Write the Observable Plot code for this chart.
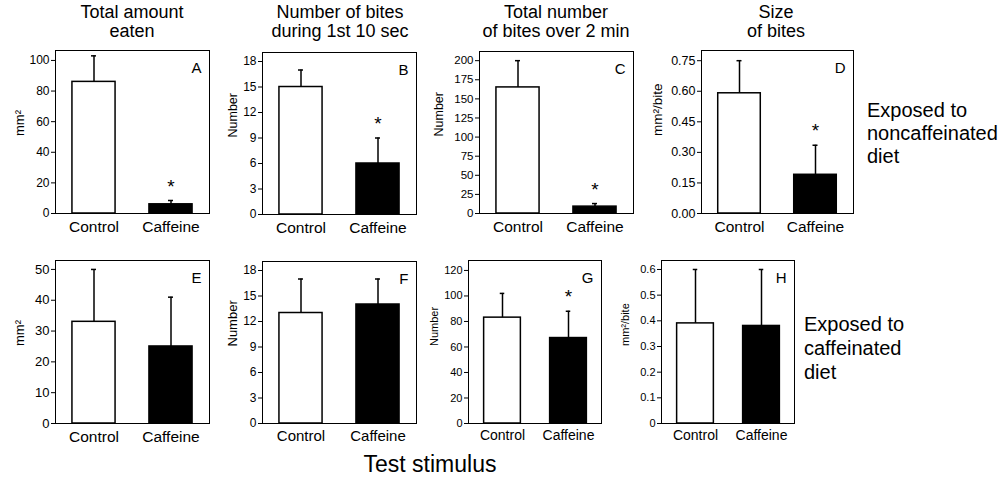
<!DOCTYPE html>
<html>
<head>
<meta charset="utf-8">
<script src="https://cdn.jsdelivr.net/npm/d3@7"></script>
<script src="https://cdn.jsdelivr.net/npm/@observablehq/plot@0.6"></script>
<style>
  html, body { margin: 0; padding: 0; background: #fff; }
  #fig { position: relative; width: 1005px; height: 481px; font-family: "Liberation Sans", Arial, Helvetica, sans-serif; color: #000; overflow: hidden; }
  .abs { position: absolute; }
  .coltitle { position: absolute; text-align: center; font-size: 18px; line-height: 19px; white-space: nowrap; transform: translateX(-50%); }
  .rowlabel { position: absolute; font-size: 20px; line-height: 22px; white-space: nowrap; }
  svg { overflow: visible; }
</style>
</head>
<body>
<div id="fig"></div>
<script>
// ---------- data ----------
const categories = ["Control", "Caffeine"];
const panelLetters = ["A", "B", "C", "D", "E", "F", "G", "H"];
const columnTitles = ["Total amount\neaten", "Number of bites\nduring 1st 10 sec", "Total number\nof bites over 2 min", "Size\nof bites"];
const rowLabels = ["Exposed to\nnoncaffeinated\ndiet", "Exposed to\ncaffeinated\ndiet"];
const xTitle = "Test stimulus";
const yLabels = ["mm²", "Number", "Number", "mm²/bite", "mm²", "Number", "Number", "mm²/bite"];

const meanA = [86, 6],      errA = [103, 8.5],   starA = [false, true];
const meanB = [15, 6],      errB = [17, 9],      starB = [false, true];
const meanC = [165, 9],     errC = [200, 13],    starC = [false, true];
const meanD = [0.59, 0.19], errD = [0.75, 0.335], starD = [false, true];
const meanE = [33, 25],     errE = [50, 41],     starE = [false, false];
const meanF = [13, 14],     errF = [17, 17],     starF = [false, false];
const meanG = [83, 67],     errG = [102, 88],    starG = [false, true];
const meanH = [0.39, 0.38], errH = [0.6, 0.6],   starH = [false, false];

const ticksA = [0, 20, 40, 60, 80, 100];
const ticksB = [0, 3, 6, 9, 12, 15, 18];
const ticksC = [0, 25, 50, 75, 100, 125, 150, 175, 200];
const ticksD = [0, 0.15, 0.30, 0.45, 0.60, 0.75];
const ticksE = [0, 10, 20, 30, 40, 50];
const ticksF = [0, 3, 6, 9, 12, 15, 18];
const ticksG = [0, 20, 40, 60, 80, 100, 120];
const ticksH = [0, 0.1, 0.2, 0.3, 0.4, 0.5, 0.6];

const means = [meanA, meanB, meanC, meanD, meanE, meanF, meanG, meanH];
const errs = [errA, errB, errC, errD, errE, errF, errG, errH];
const stars = [starA, starB, starC, starD, starE, starF, starG, starH];
const ticks = [ticksA, ticksB, ticksC, ticksD, ticksE, ticksF, ticksG, ticksH];
const tickFormats = [d3.format("d"), d3.format("d"), d3.format("d"), d3.format(".2f"), d3.format("d"), d3.format("d"), d3.format("d"), d => d === 0 ? "0" : d3.format(".1f")(d)];

// ---------- layout (pixels / scale extents) ----------
const layout = [
  {left: 55,  top: 50,  w: 154, h: 163, yMax: 106.5, ylabDx: -36, ylabSize: 13, tickFont: 12,   xFont: 15.5},
  {left: 262, top: 52,  w: 154, h: 162, yMax: 19.06, ylabDx: -30, ylabSize: 12.5, tickFont: 12, xFont: 15.5},
  {left: 479, top: 51,  w: 154, h: 162, yMax: 212,   ylabDx: -41, ylabSize: 12.5, tickFont: 11.5, xFont: 15.5},
  {left: 701, top: 50,  w: 152, h: 163, yMax: 0.80,  ylabDx: -44, ylabSize: 13.5, tickFont: 12.5, xFont: 15.5},
  {left: 55,  top: 260, w: 154, h: 163, yMax: 52.9,  ylabDx: -36, ylabSize: 13, tickFont: 13,   xFont: 15.5},
  {left: 262, top: 261, w: 154, h: 162, yMax: 19.06, ylabDx: -30, ylabSize: 13, tickFont: 12,   xFont: 15},
  {left: 468, top: 260, w: 133, h: 163, yMax: 127.8, ylabDx: -34, ylabSize: 11, tickFont: 11,   xFont: 14},
  {left: 661, top: 260, w: 133, h: 163, yMax: 0.635, ylabDx: -36, ylabSize: 11, tickFont: 11,   xFont: 14}
];
const colCenters = [132, 340, 556, 776];

const fig = document.getElementById("fig");

layout.forEach((L, i) => {
  const rows = categories.map((c, j) => ({cat: c, mean: means[i][j], err: errs[i][j], star: stars[i][j]}));
  const mL = 60, mR = 4, mT = 8, mB = 30;
  const band = L.w / 2;
  const barW = L.w * 0.28;
  const inset = (band - barW) / 2;
  const capInset = band / 2 - 2.5;
  const chart = Plot.plot({
    width: mL + L.w + mR,
    height: mT + L.h + mB,
    marginLeft: mL, marginRight: mR, marginTop: mT, marginBottom: mB,
    style: {fontFamily: "Liberation Sans, Arial, Helvetica, sans-serif", background: "transparent", color: "#000", overflow: "visible"},
    x: {type: "band", domain: categories, padding: 0, label: null},
    y: {domain: [0, L.yMax], label: null},
    marks: [
      Plot.barY(rows, {x: "cat", y: "mean", fill: d => d.cat === "Control" ? "#fff" : "#000", stroke: "#000", strokeWidth: 1.5, insetLeft: inset, insetRight: inset}),
      Plot.ruleX(rows, {x: "cat", y1: "mean", y2: "err", stroke: "#000", strokeWidth: 1.5}),
      Plot.tickY(rows, {x: "cat", y: "err", stroke: "#000", strokeWidth: 1.5, insetLeft: capInset, insetRight: capInset}),
      Plot.text(rows.filter(d => d.star), {x: "cat", y: "err", text: () => "*", dy: -14, fontSize: 19}),
      Plot.text([panelLetters[i]], {frameAnchor: "top-right", dx: -8, dy: 12, fontSize: 15}),
      Plot.text([yLabels[i]], {frameAnchor: "left", rotate: -90, dx: L.ylabDx, dy: 4, fontSize: L.ylabSize}),
      Plot.axisY({ticks: ticks[i], tickFormat: tickFormats[i], tickSize: 4, tickPadding: 2, fontSize: L.tickFont, label: null}),
      Plot.axisX({tickSize: 0, tickPadding: 7, fontSize: L.xFont, label: null}),
      Plot.frame({stroke: "#000", strokeWidth: 1})
    ]
  });
  chart.style.position = "absolute";
  chart.style.left = (L.left - mL) + "px";
  chart.style.top = (L.top - mT) + "px";
  fig.appendChild(chart);
});

columnTitles.forEach((t, i) => {
  const d = document.createElement("div");
  d.className = "coltitle";
  d.style.left = colCenters[i] + "px";
  d.style.top = "3px";
  d.innerHTML = t.split("\n").join("<br>");
  fig.appendChild(d);
});

[{left: 867, top: 99}, {left: 804, top: 312}].forEach((p, i) => {
  const d = document.createElement("div");
  d.className = "rowlabel";
  d.style.left = p.left + "px";
  d.style.top = p.top + "px";
  d.style.lineHeight = i === 0 ? "23px" : "24px";
  d.innerHTML = rowLabels[i].split("\n").join("<br>");
  fig.appendChild(d);
});

const xt = document.createElement("div");
xt.className = "abs";
xt.style.left = "430px";
xt.style.top = "451px";
xt.style.transform = "translateX(-50%)";
xt.style.fontSize = "23px";
xt.style.whiteSpace = "nowrap";
xt.textContent = xTitle;
fig.appendChild(xt);
</script>
</body>
</html>
